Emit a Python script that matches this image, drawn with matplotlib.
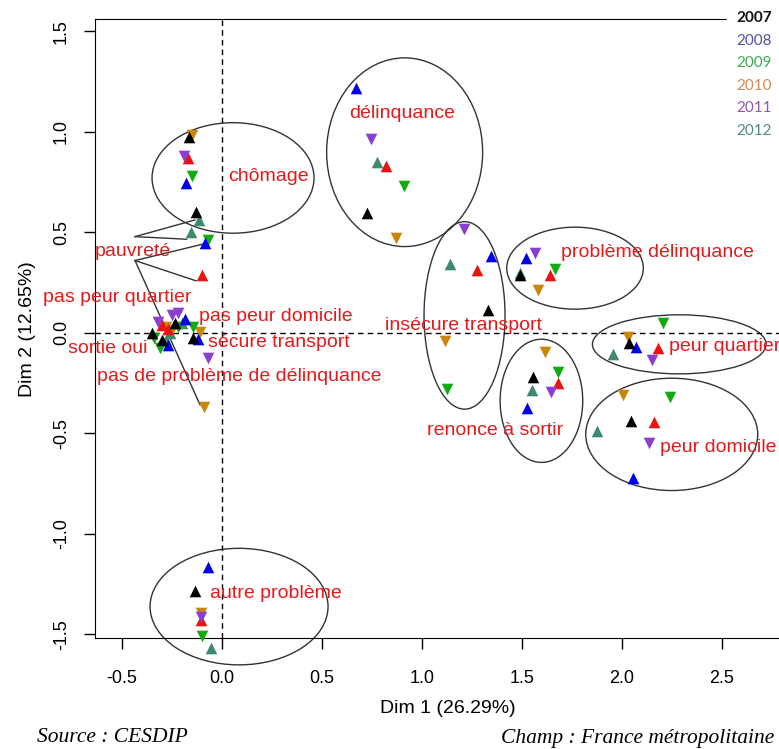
import matplotlib.pyplot as plt
from matplotlib.patches import Ellipse, Rectangle

plt.rcParams["axes.unicode_minus"] = False

# points, one list per colour (x, y)
pts_2007 = [(-0.165, 0.977), (-0.13, 0.60), (-0.35, 0.0), (-0.30, -0.035), (-0.235, 0.048),
            (-0.143, -0.027), (0.723, 0.595), (1.328, 0.116), (1.49, 0.289), (2.037, -0.048),
            (1.557, -0.22), (2.045, -0.438), (-0.133, -1.285)]
pts_2008 = [(-0.18, 0.745), (-0.085, 0.445), (-0.27, -0.06), (-0.185, 0.068), (-0.12, -0.03),
            (0.67, 1.217), (1.343, 0.383), (1.52, 0.372), (2.07, -0.068), (1.523, -0.376),
            (2.053, -0.723), (-0.07, -1.164)]
pts_2009 = [(-0.15, 0.78), (-0.07, 0.46), (-0.34, -0.027), (-0.31, -0.076), (-0.22, 0.031),
            (-0.143, 0.028), (0.91, 0.731), (1.127, -0.28), (1.665, 0.317), (2.207, 0.048),
            (1.68, -0.193), (2.24, -0.317), (-0.098, -1.51)]
pts_2010 = [(-0.15, 0.985), (-0.09, -0.367), (-0.25, 0.015), (-0.11, 0.006), (-0.28, 0.03),
            (0.87, 0.474), (1.115, -0.04), (1.58, 0.214), (2.03, -0.022), (1.615, -0.093),
            (2.003, -0.308), (-0.105, -1.395)]
pts_2011 = [(-0.19, 0.88), (-0.07, -0.126), (-0.32, 0.056), (-0.25, 0.09), (-0.22, 0.098),
            (0.743, 0.965), (1.212, 0.516), (1.565, 0.396), (2.148, -0.134), (1.645, -0.292),
            (2.137, -0.549), (-0.105, -1.415)]
pts_2012 = [(-0.115, 0.56), (-0.155, 0.50), (-0.28, -0.035), (-0.2, 0.05), (-0.26, 0.0),
            (0.777, 0.852), (1.14, 0.343), (1.49, 0.30), (1.957, -0.104), (1.552, -0.284),
            (1.877, -0.488), (-0.057, -1.566)]
pts_red = [(-0.17, 0.87), (-0.10, 0.29), (-0.30, 0.04), (-0.27, 0.02), (0.82, 0.831),
           (1.277, 0.313), (1.64, 0.289), (2.18, -0.076), (1.68, -0.25), (2.162, -0.444),
           (-0.105, -1.43)]

years = ["2007", "2008", "2009", "2010", "2011", "2012"]
year_colors = ["#111111", "#5050aa", "#3caa55", "#d08a55", "#9058a8", "#4e8a84"]

# category labels: text, left x, y
labels = ["chômage", "délinquance", "pauvreté", "pas peur quartier", "pas peur domicile",
          "sécure transport", "sortie oui", "pas de problème de délinquance",
          "insécure transport", "problème délinquance", "peur quartier",
          "renonce à sortir", "peur domicile", "autre problème"]
label_x = [0.03, 0.635, -0.635, -0.895, -0.115, -0.07, -0.77, -0.625,
           0.815, 1.695, 2.235, 1.0235, 2.19, -0.06]
label_y = [0.778, 1.093, 0.405, 0.176, 0.081, -0.046, -0.076, -0.217,
           0.038, 0.40, -0.068, -0.486, -0.571, -1.295]

# ellipses: centre x, centre y, width, height
ell_x = [0.055, 0.913, 1.2125, 1.765, 2.286, 1.597, 2.2485, 0.085]
ell_y = [0.771, 0.899, 0.087, 0.322, -0.057, -0.338, -0.505, -1.362]
ell_w = [0.81, 0.78, 0.405, 0.683, 0.868, 0.413, 0.86, 0.89]
ell_h = [0.55, 0.939, 0.933, 0.408, 0.294, 0.613, 0.559, 0.58]

# connector lines for "pauvreté"
pauv_vertex = [(-0.435, 0.479), (-0.435, 0.36)]
pauv_targets = [[(-0.135, 0.562), (-0.177, 0.466)],
                [(-0.09, 0.443), (-0.13, 0.259), (-0.11, -0.358)]]

fig = plt.figure(figsize=(7.79, 7.49), dpi=100)
ax = fig.add_axes([0.122, 0.148, 0.905, 0.8264])
ax.set_xlim(-0.635, 2.89)
ax.set_ylim(-1.519, 1.561)

ax.axvline(0, color="black", ls=(0, (4, 3)), lw=1)
ax.axhline(0, color="black", ls=(0, (4, 3)), lw=1)

for (vx, vy), targets in zip(pauv_vertex, pauv_targets):
    for tx, ty in targets:
        ax.plot([vx, tx], [vy, ty], color="#333333", lw=1)

for cx, cy, w, h in zip(ell_x, ell_y, ell_w, ell_h):
    ax.add_patch(Ellipse((cx, cy), w, h, fill=False, ec="#333333", lw=1, clip_on=False))

series = [(pts_2012, "#3d8a6c", "^"), (pts_2010, "#c8860b", "v"), (pts_red, "#ee1111", "^"),
          (pts_2011, "#8a3fd1", "v"), (pts_2009, "#11aa11", "v"), (pts_2008, "#0000ee", "^"),
          (pts_2007, "black", "^")]
for pts, col, mk in series:
    xs = [p[0] for p in pts]
    ys = [p[1] for p in pts]
    ax.scatter(xs, ys, marker=mk, color=col, s=70, lw=0, clip_on=False, zorder=3)

for t, x, y in zip(labels, label_x, label_y):
    ax.text(x, y, t, color="#e41a1c", fontsize=14, ha="left", va="center",
            family="Liberation Sans", zorder=4)

ax.set_xticks([-0.5, 0.0, 0.5, 1.0, 1.5, 2.0, 2.5])
ax.set_yticks([-1.5, -1.0, -0.5, 0.0, 0.5, 1.0, 1.5])
ax.tick_params(direction="out", length=8, width=1, labelsize=13)
ax.tick_params(axis="x", pad=15)
ax.tick_params(axis="y", pad=10)
for lab in ax.get_xticklabels() + ax.get_yticklabels():
    lab.set_family("Liberation Sans")
plt.setp(ax.get_yticklabels(), rotation=90, va="center")
ax.set_xlabel("Dim 1 (26.29%)", fontsize=14, family="Liberation Sans", labelpad=9)
ax.set_ylabel("Dim 2 (12.65%)", fontsize=14, family="Liberation Sans", labelpad=12)

# legend block pasted over the top right corner
fig.patches.append(Rectangle((727 / 779, 1 - 145 / 749), 1, 145 / 749,
                             transform=fig.transFigure, color="white", zorder=5))
for i, (yr, col) in enumerate(zip(years, year_colors)):
    fig.text(736 / 779, 1 - (18 + 22.6 * i) / 749, yr, color=col, fontsize=11,
             family="Lato", weight="bold" if i == 0 else "normal", va="center", zorder=6)

fig.text(37 / 779, 1 - 738 / 749, "Source : CESDIP", fontsize=15.5, style="italic",
         family="Liberation Serif", va="center")
fig.text(774 / 779, 1 - 738 / 749, "Champ : France métropolitaine", fontsize=15.5,
         style="italic", family="Liberation Serif", va="center", ha="right")

fig.savefig("out.png", dpi=100)
